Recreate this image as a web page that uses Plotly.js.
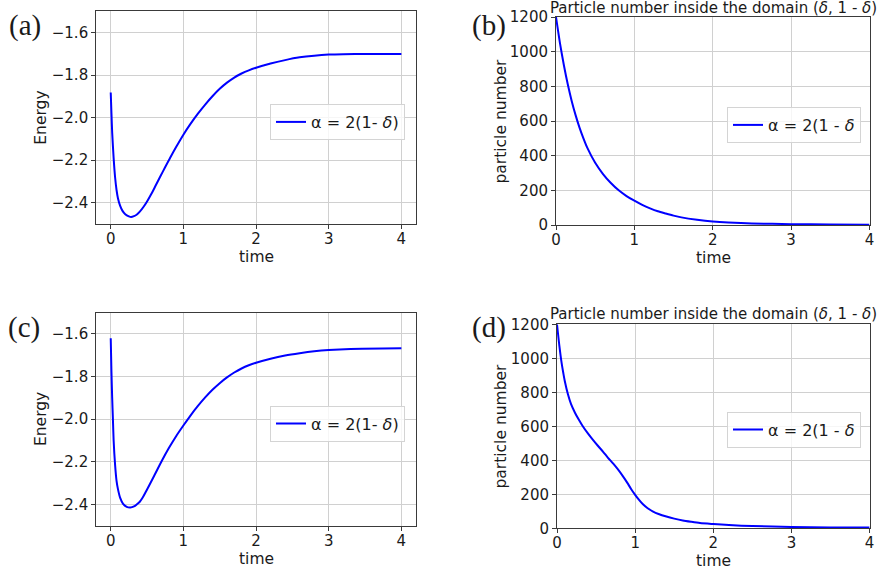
<!DOCTYPE html>
<html>
<head>
<meta charset="utf-8">
<script src="https://cdn.plot.ly/plotly-3.0.1.min.js"></script>
<style>html,body{margin:0;padding:0;background:#fff;}#chart{width:878px;height:571px;}</style>
</head>
<body>
<div id="chart"></div>
<script>
// ---- Data ----
const timeA = [0, 0.01, 0.02, 0.04, 0.06, 0.08, 0.1, 0.13, 0.16, 0.2, 0.25, 0.28, 0.32, 0.36, 0.4, 0.45, 0.5, 0.56, 0.62, 0.68, 0.75, 0.82, 0.9, 1.0, 1.1, 1.2, 1.3, 1.4, 1.5, 1.6, 1.7, 1.8, 1.9, 2.0, 2.2, 2.4, 2.6, 2.8, 3.0, 3.2, 3.5, 4.0];
const energyA = [-1.881, -1.98, -2.07, -2.19, -2.28, -2.34, -2.38, -2.415, -2.437, -2.454, -2.464, -2.467, -2.463, -2.455, -2.442, -2.420, -2.394, -2.358, -2.318, -2.278, -2.232, -2.187, -2.138, -2.080, -2.028, -1.981, -1.938, -1.899, -1.864, -1.835, -1.811, -1.792, -1.777, -1.765, -1.745, -1.729, -1.716, -1.708, -1.703, -1.701, -1.700, -1.700];

const timeB = [0, 0.05, 0.1, 0.15, 0.2, 0.25, 0.3, 0.35, 0.4, 0.5, 0.6, 0.7, 0.8, 0.9, 1.0, 1.1, 1.2, 1.3, 1.4, 1.5, 1.6, 1.8, 2.0, 2.2, 2.5, 3.0, 3.5, 4.0];
const particlesB = [1200, 1051, 923, 812, 716, 634, 562, 500, 445, 359, 294, 242, 200, 167, 140, 116, 96, 79, 66, 54, 44, 30, 20, 14, 9, 5, 3, 2];

const timeC = [0, 0.01, 0.02, 0.03, 0.04, 0.06, 0.08, 0.1, 0.13, 0.17, 0.22, 0.27, 0.32, 0.36, 0.4, 0.45, 0.5, 0.6, 0.7, 0.8, 0.9, 1.0, 1.1, 1.2, 1.3, 1.4, 1.5, 1.6, 1.7, 1.8, 1.9, 2.0, 2.2, 2.4, 2.6, 2.8, 3.0, 3.3, 4.0];
const energyC = [-1.62, -1.78, -1.90, -2.00, -2.10, -2.215, -2.29, -2.33, -2.37, -2.398, -2.412, -2.415, -2.41, -2.40, -2.388, -2.362, -2.330, -2.265, -2.198, -2.136, -2.080, -2.030, -1.982, -1.938, -1.898, -1.862, -1.831, -1.804, -1.781, -1.762, -1.747, -1.735, -1.716, -1.701, -1.690, -1.681, -1.675, -1.670, -1.667];

const timeD = [0, 0.03, 0.06, 0.08, 0.1, 0.14, 0.18, 0.23, 0.28, 0.33, 0.4, 0.46, 0.52, 0.59, 0.65, 0.72, 0.78, 0.84, 0.9, 0.95, 1.0, 1.05, 1.1, 1.16, 1.23, 1.3, 1.4, 1.5, 1.61, 1.72, 1.83, 2.0, 2.2, 2.5, 3.0, 3.5, 4.0];
const particlesD = [1200, 1075, 970, 915, 865, 788, 730, 680, 638, 600, 555, 520, 487, 450, 416, 380, 346, 308, 267, 230, 197, 167, 141, 118, 98, 84, 69, 57, 46, 38, 31, 25, 19, 13, 8, 5, 4];

const energyTicks = [-2.4, -2.2, -2.0, -1.8, -1.6];
const timeTicks = [0, 1, 2, 3, 4];
const particleTicks = [0, 200, 400, 600, 800, 1000, 1200];

const legendEnergy = 'α = 2(1- <i>δ</i>)';
const legendParticles = 'α = 2(1 - <i>δ</i>';
const panelTitle = 'Particle number inside the domain (<i>δ</i>, 1 - <i>δ</i>)';
const panelLabels = ['(a)', '(b)', '(c)', '(d)'];

// ---- Layout helpers ----
const W = 878, H = 571;
const px = x => x / W;
const py = y => 1 - y / H;
const SANS = 'DejaVu Sans, sans-serif';
const TXT = '#1a1a1a';

function axisStyle(extra) {
  return Object.assign({
    showline: true, mirror: true, linecolor: '#3a3a3a', linewidth: 1,
    ticks: 'outside', ticklen: 4, tickwidth: 1, tickcolor: '#3a3a3a',
    showgrid: true, gridcolor: '#d0d0d0', gridwidth: 1, zeroline: false,
    tickfont: {family: SANS, size: 15, color: TXT}, fixedrange: true
  }, extra);
}

function legendStyle(x, y) {
  return {
    x: x, y: y, xref: 'paper', yref: 'paper', xanchor: 'left', yanchor: 'top',
    bgcolor: 'rgba(255,255,255,0.8)', bordercolor: '#d4d4d4', borderwidth: 1,
    font: {family: SANS, size: 16, color: TXT}
  };
}

const lineStyle = {color: '#0000ff', width: 2, shape: 'spline', smoothing: 0.7};

const traces = [
  {x: timeA, y: energyA, type: 'scatter', mode: 'lines', line: lineStyle, name: legendEnergy, xaxis: 'x', yaxis: 'y', legend: 'legend', showlegend: true},
  {x: timeB, y: particlesB, type: 'scatter', mode: 'lines', line: lineStyle, name: legendParticles, xaxis: 'x2', yaxis: 'y2', legend: 'legend2', showlegend: true},
  {x: timeC, y: energyC, type: 'scatter', mode: 'lines', line: lineStyle, name: legendEnergy, xaxis: 'x3', yaxis: 'y3', legend: 'legend3', showlegend: true},
  {x: timeD, y: particlesD, type: 'scatter', mode: 'lines', line: lineStyle, name: legendParticles, xaxis: 'x4', yaxis: 'y4', legend: 'legend4', showlegend: true}
];

const ann = [];
function addText(text, x, y, size, opts) {
  ann.push(Object.assign({text: text, x: px(x), y: py(y), xref: 'paper', yref: 'paper',
    xanchor: 'center', yanchor: 'middle', showarrow: false,
    font: {family: SANS, size: size, color: TXT}}, opts || {}));
}
// axis titles
addText('time', 256, 257, 15.5);
addText('time', 713, 258, 15.5);
addText('time', 256, 558.5, 15.5);
addText('time', 713, 560.5, 15.5);
addText('Energy', 41, 117.7, 15.5, {textangle: -90});
addText('Energy', 41, 419, 15.5, {textangle: -90});
addText('particle number', 500.5, 121, 15.5, {textangle: -90});
addText('particle number', 500.5, 426, 15.5, {textangle: -90});
// panel titles
addText(panelTitle, 713, 8, 15);
addText(panelTitle, 713, 314, 15);
// panel labels
const serif = {family: 'Liberation Serif, DejaVu Serif, serif', size: 29, color: TXT};
addText(panelLabels[0], 24.5, 25, 29, {font: serif});
addText(panelLabels[1], 489, 25.5, 29, {font: serif});
addText(panelLabels[2], 23.5, 328, 29, {font: serif});
addText(panelLabels[3], 489, 328, 29, {font: serif});

const xStandoff = {ticklabelstandoff: -3};
const layout = {
  width: W, height: H,
  margin: {l: 0, r: 0, t: 0, b: 0, pad: 0},
  paper_bgcolor: '#ffffff', plot_bgcolor: '#ffffff',
  font: {family: SANS, color: TXT},
  xaxis: axisStyle(Object.assign({domain: [px(96.2), px(415.9)], range: [-0.2, 4.2], tickvals: timeTicks, anchor: 'y'}, xStandoff)),
  yaxis: axisStyle({domain: [py(224), py(11.45)], range: [-2.5, -1.5], tickvals: energyTicks, tickformat: '.1f', anchor: 'x'}),
  xaxis2: axisStyle(Object.assign({domain: [px(556), px(869.5)], range: [0, 4], tickvals: timeTicks, anchor: 'y2'}, xStandoff)),
  yaxis2: axisStyle({domain: [py(225), py(17)], range: [0, 1200], tickvals: particleTicks, anchor: 'x2'}),
  xaxis3: axisStyle(Object.assign({domain: [px(96.2), px(415.9)], range: [-0.2, 4.2], tickvals: timeTicks, anchor: 'y3'}, xStandoff)),
  yaxis3: axisStyle({domain: [py(525.6), py(312.7)], range: [-2.5, -1.5], tickvals: energyTicks, tickformat: '.1f', anchor: 'x3'}),
  xaxis4: axisStyle(Object.assign({domain: [px(557), px(869.6)], range: [0, 4], tickvals: timeTicks, anchor: 'y4'}, xStandoff)),
  yaxis4: axisStyle({domain: [py(528.3), py(324.3)], range: [0, 1200], tickvals: particleTicks, anchor: 'x4'}),
  legend: legendStyle(px(270), py(104)),
  legend2: legendStyle(px(727), py(107)),
  legend3: legendStyle(px(270), py(405.5)),
  legend4: legendStyle(px(727), py(411.7)),
  annotations: ann
};

Plotly.newPlot('chart', traces, layout, {staticPlot: true, displayModeBar: false});
</script>
</body>
</html>
